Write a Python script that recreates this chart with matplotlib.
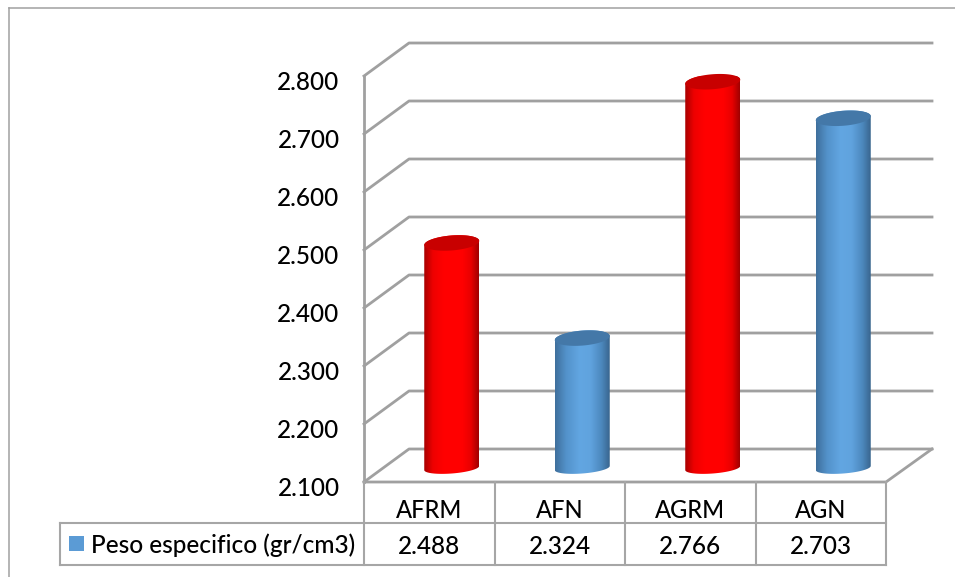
import numpy as np
import matplotlib
matplotlib.use('Agg')
import matplotlib.pyplot as plt
from matplotlib.colors import LinearSegmentedColormap
from matplotlib.patches import Polygon
from matplotlib.transforms import Affine2D, IdentityTransform

categories = ['AFRM', 'AFN', 'AGRM', 'AGN']
values = [2.488, 2.324, 2.766, 2.703]
value_labels = ['2.488', '2.324', '2.766', '2.703']
bar_kinds = ['red', 'blue', 'red', 'blue']
y_ticks = [2.1, 2.2, 2.3, 2.4, 2.5, 2.6, 2.7, 2.8]
series_name = 'Peso especifico (gr/cm3)'

W, H = 955, 577
GRID = '#a0a0a0'
TABLE = '#a6a6a6'
INK = '#000000'

plt.rcParams['font.family'] = ['Lato', 'DejaVu Sans']
plt.rcParams['font.weight'] = 'medium'

fig = plt.figure(figsize=(W / 100, H / 100), dpi=100)

# front plane of the 3d box, in pixels
left, right, top, bottom = 364, 886, 76, 482
ax = fig.add_axes([left / W, 1 - bottom / H, (right - left) / W, (bottom - top) / H])
ax.set_xlim(-0.5, 3.5)
ax.set_ylim(2.1, 2.8)
ax.axis('off')

fig_px = Affine2D().scale(1, -1).translate(0, H)  # pixels from the top-left corner


def px_line(xs, ys, color=GRID, lw=2.0, z=1):
    ax.plot(xs, ys, color=color, lw=lw, transform=fig_px, clip_on=False,
            solid_capstyle='projecting', zorder=z)


def cylinder(x, value, cmap, top_color):
    # centre of the cylinder top and bottom in display pixels
    cx, cy = ax.transData.transform((x, value))
    _, cy0 = ax.transData.transform((x, 2.1))
    cx, cy, cy0 = cx + 22.5, cy + 14, cy0 + 14
    half_w = 27.5
    t = np.linspace(0, 2 * np.pi, 80)
    ex = half_w * np.cos(t)
    tilt = 0.075

    top_xy = np.column_stack([cx + ex, cy + 7.5 * np.sin(t) + tilt * ex])
    bot_t = np.linspace(np.pi, 2 * np.pi, 40)
    bot_ex = half_w * np.cos(bot_t)
    bot_xy = np.column_stack([cx + bot_ex, cy0 + 5.5 * np.sin(bot_t) + tilt * bot_ex])
    up_t = np.linspace(0, np.pi, 40)
    up_ex = half_w * np.cos(up_t)
    up_xy = np.column_stack([cx + up_ex, cy + 7.5 * np.sin(up_t) + tilt * up_ex])

    body = Polygon(np.vstack([bot_xy, up_xy]), closed=True, transform=IdentityTransform(),
                   facecolor='none', edgecolor='none', clip_on=False)
    ax.add_patch(body)
    shade = np.linspace(0, 1, 128).reshape(1, -1)
    im = ax.imshow(shade, cmap=cmap, aspect='auto', transform=IdentityTransform(),
                   extent=(cx - half_w, cx + half_w, cy0 - 10, cy + 10), zorder=3,
                   interpolation='bilinear')
    im.set_clip_path(body)
    ax.add_patch(Polygon(top_xy, closed=True, transform=IdentityTransform(), clip_on=False,
                         facecolor=top_color, edgecolor='none', zorder=4))


red_shade = LinearSegmentedColormap.from_list(
    'red_shade', [(0, '#a80000'), (0.16, '#ee0000'), (0.35, '#ff0000'), (0.7, '#ff0000'),
                  (0.86, '#e80000'), (1, '#a00000')])
blue_shade = LinearSegmentedColormap.from_list(
    'blue_shade', [(0, '#3f6f9c'), (0.2, '#5392ca'), (0.45, '#62a6e2'), (0.65, '#60a3de'),
                   (0.85, '#4c88bd'), (1, '#39658e')])
styles = {'red': (red_shade, '#c80000'), 'blue': (blue_shade, '#4478a8')}

# chart frame
px_line([8.5, 8.5], [7.5, H], color='#a0a0a0', lw=1.1)
px_line([8.5, 955], [7.5, 7.5], color='#a0a0a0', lw=1.1)

# walls of the box: back gridlines and their slanted returns on the side wall
for v in y_ticks:
    _, yf = fig_px.inverted().transform(ax.transData.transform((-0.5, v)))
    px_line([left, left + 45, 932], [yf, yf - 33, yf - 33])
    ax.text(-0.5, v, f'{v:.3f}', transform=ax.transData + Affine2D().translate(-24.5, -7),
            ha='right', va='center', fontsize=17.5, color=INK, clip_on=False)

# floor and axis lines
px_line([left, left], [top, bottom])
px_line([left, right, 932], [bottom, bottom, bottom - 33])

for i, v in enumerate(values):
    cmap, top_color = styles[bar_kinds[i]]
    cylinder(i, v, cmap, top_color)
ax.set_xlim(-0.5, 3.5)
ax.set_ylim(2.1, 2.8)

# data table under the plot
row1, row2 = 523, 565
px_line([60, right], [row1, row1], color=TABLE, lw=1.5)
px_line([60, right], [row2, row2], color=TABLE, lw=1.5)
px_line([60, 60], [row1, row2], color=TABLE, lw=1.5)
for i in range(5):
    xe = ax.transData.transform((i - 0.5, 2.1))[0]
    px_line([xe, xe], [bottom, row2], color=TABLE, lw=1.5)

for i, (name, label) in enumerate(zip(categories, value_labels)):
    ax.text(i, 0, name, transform=ax.get_xaxis_transform() + Affine2D().translate(0, -29),
            ha='center', va='center', fontsize=17, color=INK, clip_on=False)
    ax.text(i, 0, label, transform=ax.get_xaxis_transform() + Affine2D().translate(0, -65),
            ha='center', va='center', fontsize=17.5, color=INK, clip_on=False)

ax.add_patch(Polygon([(69, 536), (84, 536), (84, 551), (69, 551)], closed=True,
                     transform=fig_px, facecolor='#5b9bd5', edgecolor='none', clip_on=False))
ax.text(91, 545, series_name, transform=fig_px, ha='left', va='center',
        fontsize=17.6, color=INK, clip_on=False)

fig.savefig('out.png', dpi=100, facecolor='white')
